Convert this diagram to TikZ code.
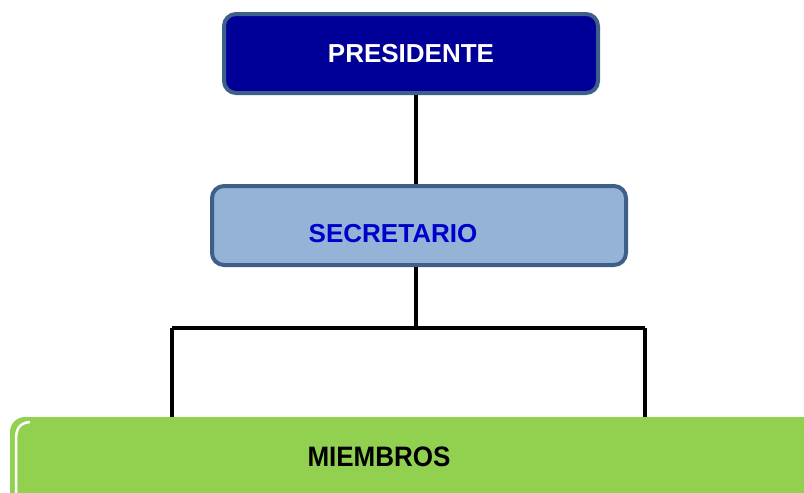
\documentclass[tikz,border=0pt]{standalone}
\usepackage{fontspec}
\setmainfont{Liberation Sans}
\usetikzlibrary{positioning}
\usepackage{xcolor}

\definecolor{presfill}{HTML}{000099}
\definecolor{boxline}{HTML}{3E5F8A}
\definecolor{secrfill}{HTML}{95B3D7}
\definecolor{secrtext}{HTML}{0000CC}
\definecolor{miemfill}{HTML}{92D050}

\tikzset{
  cargo/.style={draw=boxline, line width=4pt, rounded corners=12pt, inner sep=0pt},
  rotulo/.style={font=\fontsize{26}{30}\selectfont\bfseries, inner sep=0pt},
  linea/.style={line width=3.2pt, black}
}

\begin{document}
\begin{tikzpicture}[x=1pt, y=-1pt]

\useasboundingbox (0,0) rectangle (804,493);
\clip (0,0) rectangle (804,493);

%boxes
\node[cargo, fill=presfill, minimum width=374pt, minimum height=79pt] (pres) at (411,53.5) {};
\node[cargo, fill=secrfill, minimum width=414pt, minimum height=79pt] (secr) at (419,225.5) {};
\fill[miemfill, rounded corners=15pt] (10,417) rectangle (860,540);
\draw[white, line width=2.5pt] (30,422) .. controls (19,423) and (16,429) .. (16,440) -- (16,540);
\coordinate (miem) at (416,417);

%labels
\node[rotulo, white] (prestext) at (411,54) {PRESIDENTE};
\node[rotulo, secrtext] (secrtext) at (393,234) {SECRETARIO};
\node[rotulo, black, yscale=1.08] (miemtext) at (379,457) {MIEMBROS};

%connectors
\coordinate (split) at (416,328);
\coordinate (izq) at (172,328);
\coordinate (der) at (645,328);
\draw[linea] (pres.south -| split) -- (secr.north -| split);
\draw[linea] (secr.south -| split) -- (split);
\draw[linea] (izq) -- (der);
\draw[linea] (izq) -- (izq |- miem);
\draw[linea] (der) -- (der |- miem);

\end{tikzpicture}
\end{document}
